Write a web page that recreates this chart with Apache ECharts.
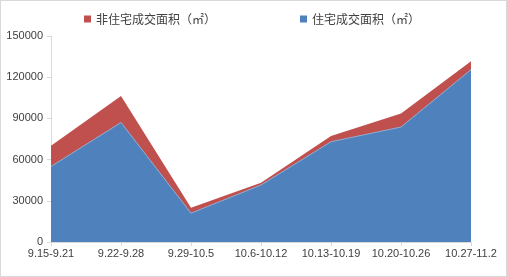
<!DOCTYPE html>
<html><head><meta charset="utf-8">
<script src="https://cdn.jsdelivr.net/npm/echarts@6/dist/echarts.min.js"></script>
<style>html,body{margin:0;padding:0;background:#fff}#c{width:507px;height:277px;box-sizing:border-box;border:1px solid #d9d9d9}</style>
</head><body><div id="c"></div>
<script>
const categories = ['9.15-9.21','9.22-9.28','9.29-10.5','10.6-10.12','10.13-10.19','10.20-10.26','10.27-11.2'];
const residential = [55000, 87000, 21000, 41500, 73000, 83700, 125500];
const nonResidential = [15000, 19300, 3900, 1700, 4100, 9800, 6200];
const yTicks = [0, 30000, 60000, 90000, 120000, 150000];
const nameRes = '住宅成交面积（㎡）';
const nameNon = '非住宅成交面积（㎡）';
const chart = echarts.init(document.getElementById('c'));
const axisFont = {fontFamily:'Liberation Sans, Arial, sans-serif', fontSize:11, color:'#404040'};
chart.setOption({
  animation:false,
  legend:{data:[nameNon, nameRes], top:7, left:78, itemWidth:7, itemHeight:7, itemGap:84,
    icon:'rect', textStyle:{fontFamily:'Noto Sans CJK SC', fontSize:12, color:'#404040'}},
  grid:{left:50, right:35, top:35, bottom:34},
  xAxis:{type:'category', boundaryGap:false, data:categories,
    axisLine:{lineStyle:{color:'#d9d9d9'}}, axisTick:{show:true, length:4, lineStyle:{color:'#d9d9d9'}},
    axisLabel:Object.assign({margin:6, interval:0}, axisFont)},
  yAxis:{type:'value', min:yTicks[0], max:yTicks[yTicks.length-1], interval:30000,
    axisLine:{show:true, lineStyle:{color:'#d9d9d9'}}, axisTick:{show:true, length:4, lineStyle:{color:'#d9d9d9'}},
    splitLine:{show:false}, axisLabel:Object.assign({margin:8, formatter:v=>String(v)}, axisFont)},
  series:[
    {name:nameRes, type:'line', stack:'a', data:residential, symbol:'none',
     itemStyle:{color:'#4F81BD'}, lineStyle:{width:1, color:'#8aa9d2'}, areaStyle:{color:'#4F81BD', opacity:1}},
    {name:nameNon, type:'line', stack:'a', data:nonResidential, symbol:'none',
     itemStyle:{color:'#C0504D'}, lineStyle:{width:0}, areaStyle:{color:'#C0504D', opacity:1}}
  ]
});
</script></body></html>
